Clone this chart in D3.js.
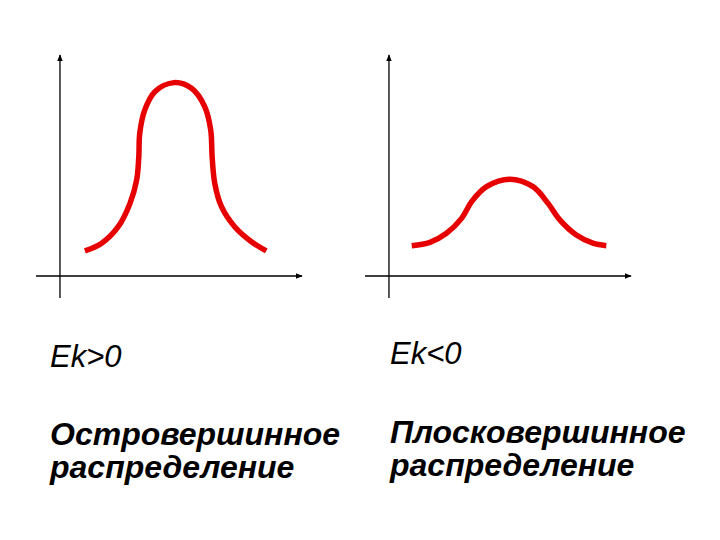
<!DOCTYPE html>
<html>
<head>
<meta charset="utf-8">
<script src="https://cdn.jsdelivr.net/npm/d3@7"></script>
<style>
  body { margin: 0; background: #fff; }
  .axis-line { stroke: #000; stroke-width: 1.3; }
  .curve { fill: none; stroke: #e60000; stroke-width: 5.5; stroke-linecap: butt; }
  .lbl { font-family: "Liberation Sans", Arial, sans-serif; font-style: italic; fill: #000; }
</style>
</head>
<body>
<div id="chart"></div>
<script>
// values (arbitrary units, origin at axes crossing)
var peakedX = [1.04, 1.74, 2.43, 2.92, 3.20, 3.29, 3.33, 3.54, 3.96, 4.76, 5.49, 6.04, 6.29, 6.35, 6.46, 6.74, 7.29, 7.99, 8.61];
var peakedY = [1.14, 1.49, 2.24, 3.30, 4.36, 5.42, 6.49, 7.55, 8.38, 8.79, 8.53, 7.70, 6.64, 5.42, 4.21, 3.15, 2.24, 1.56, 1.14];
var flatX   = [0.95, 1.71, 2.40, 3.03, 3.45, 4.07, 5.04, 6.01, 6.64, 7.13, 7.82, 8.51, 9.07];
var flatY   = [1.38, 1.53, 1.94, 2.62, 3.38, 4.06, 4.40, 4.06, 3.30, 2.55, 1.86, 1.49, 1.38];
var ekLabels   = ["Ek>0", "Ek<0"];
var nameLine1  = ["Островершинное", "Плосковершинное"];
var nameLine2  = ["распределение", "распределение"];

var width = 720, height = 540;

var svg = d3.select("#chart")
    .append("svg")
    .attr("width", width)
    .attr("height", height);

svg.append("defs").append("marker")
    .attr("id", "arrow")
    .attr("viewBox", "0 0 10 10")
    .attr("refX", 9)
    .attr("refY", 5)
    .attr("markerWidth", 7)
    .attr("markerHeight", 7)
    .attr("markerUnits", "userSpaceOnUse")
    .attr("orient", "auto")
    .append("path")
    .attr("d", "M0,1 L10,5 L0,9 Z")
    .attr("fill", "#000");

var panels = [
    {xs: peakedX, ys: peakedY, left: 36, textX: 50, base: [367, 445, 478]},
    {xs: flatX,   ys: flatY,   left: 365, textX: 390, base: [364, 443, 476]}
];

panels.forEach(function(p, i) {
    var x = d3.scaleLinear().domain([-1, 10.1]).range([p.left, p.left + 266]);
    var y = d3.scaleLinear().domain([-1, 10]).range([298, 56]);

    var g = svg.append("g");

    // x axis
    g.append("line")
        .attr("class", "axis-line")
        .attr("x1", x(-1)).attr("y1", y(0))
        .attr("x2", x(10.1)).attr("y2", y(0))
        .attr("marker-end", "url(#arrow)");

    // y axis
    g.append("line")
        .attr("class", "axis-line")
        .attr("x1", x(0)).attr("y1", y(-1))
        .attr("x2", x(0)).attr("y2", y(10.05))
        .attr("marker-end", "url(#arrow)");

    var pts = p.xs.map(function(v, k) { return [v, p.ys[k]]; });
    var line = d3.line()
        .x(function(d) { return x(d[0]); })
        .y(function(d) { return y(d[1]); })
        .curve(d3.curveCatmullRom.alpha(0.5));

    g.append("path")
        .attr("class", "curve")
        .attr("d", line(pts));

    g.append("text")
        .attr("class", "lbl")
        .attr("x", p.textX).attr("y", p.base[0])
        .style("font-size", "31px")
        .text(ekLabels[i]);

    g.append("text")
        .attr("class", "lbl")
        .attr("x", p.textX).attr("y", p.base[1])
        .style("font-size", "32px")
        .style("font-weight", "bold")
        .text(nameLine1[i]);

    g.append("text")
        .attr("class", "lbl")
        .attr("x", p.textX).attr("y", p.base[2])
        .style("font-size", "32px")
        .style("font-weight", "bold")
        .text(nameLine2[i]);
});
</script>
</body>
</html>
